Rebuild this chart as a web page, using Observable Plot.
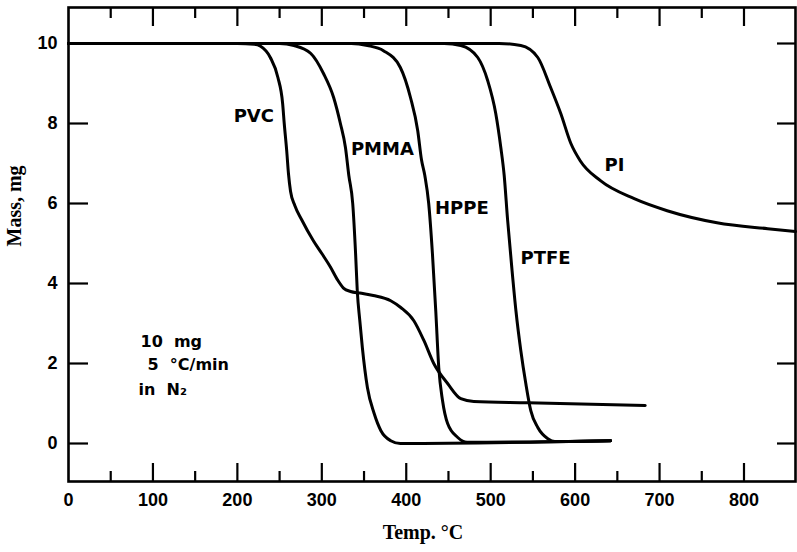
<!DOCTYPE html>
<html><head><meta charset="utf-8">
<script src="https://cdn.jsdelivr.net/npm/d3@7"></script>
<script src="https://cdn.jsdelivr.net/npm/@observablehq/plot@0.6"></script>
<style>body{margin:0;background:#fff}</style>
</head><body><div id="chart"></div>
<script>
// Series: temperature (°C) and mass (mg)
const pvcT = [0, 200, 220, 227.5, 239, 248, 253.6, 255.5, 258.5, 260.5, 263, 268, 276, 290, 300, 310, 319, 326, 334, 345, 361, 381.6, 393.5, 409, 421, 432.6, 449, 464.6, 480, 544, 683];
const pvcM = [10, 10, 9.98, 9.93, 9.65, 9.15, 8.5, 8.0, 7.3, 6.75, 6.3, 5.95, 5.6, 5.07, 4.75, 4.42, 4.08, 3.88, 3.8, 3.76, 3.7, 3.57, 3.4, 3.07, 2.57, 2.0, 1.5, 1.12, 1.05, 1.02, 0.95];
const pmmaT = [0, 250, 267, 287, 302, 314, 322, 328, 332, 336.6, 340, 342, 345, 348, 354, 362, 370, 381.6, 393, 642];
const pmmaM = [10, 10, 9.95, 9.75, 9.25, 8.65, 8.0, 7.4, 6.7, 6.0, 4.75, 3.82, 3.07, 2.4, 1.4, 0.75, 0.32, 0.07, 0.0, 0.07];
const hppeT = [0, 335, 354, 373, 393, 405, 413.6, 418, 422, 426.6, 431, 435, 438.5, 443, 449, 461, 472, 642];
const hppeM = [10, 10, 9.95, 9.82, 9.4, 8.65, 7.82, 7.1, 6.7, 6.0, 4.75, 3.3, 1.9, 1.07, 0.5, 0.15, 0.03, 0.07];
const ptfeT = [0, 445, 464.6, 484.7, 496.5, 506, 512, 516, 520, 525, 530, 535.7, 541.6, 547.5, 555.8, 567.7, 576, 642];
const ptfeM = [10, 10, 9.95, 9.65, 9.07, 8.25, 7.4, 6.7, 5.6, 4.4, 3.3, 2.32, 1.5, 0.82, 0.4, 0.12, 0.05, 0.07];
const piT = [0, 510, 535.7, 555.8, 571, 583, 595, 606, 630, 670, 709, 768, 828, 861];
const piM = [10, 10, 9.95, 9.65, 8.9, 8.25, 7.5, 7.07, 6.57, 6.12, 5.82, 5.52, 5.37, 5.3];

// Curve labels
const labelNames = ["PVC", "PMMA", "HPPE", "PTFE", "PI"];
const labelT = [219.5, 371.7, 465.8, 565, 646.5];
const labelM = [8.19, 7.35, 5.89, 4.64, 6.95];

// Annotation
const noteLines = ["10  mg", "5  °C/min", "in  N₂"];
const noteT = [85.3, 93.6, 83];
const noteM = [2.54, 1.97, 1.35];

// Ticks
const xLabelTicks = [0, 100, 200, 300, 400, 500, 600, 700, 800];
const xMinorTicks = [50, 150, 250, 350, 450, 550, 650, 750];
const yTicks = [0, 2, 4, 6, 8, 10];

const W = 797, H = 552;
const mL = 68, mR = 2, mT = 7, mB = 71;
const fw = W - mL - mR, fh = H - mT - mB;

const rows = (T, M) => T.map((t, i) => ({t, m: M[i]}));
const series = [rows(pvcT, pvcM), rows(pmmaT, pmmaM), rows(hppeT, hppeM), rows(ptfeT, ptfeM), rows(piT, piM)];
const labels = labelNames.map((n, i) => ({n, t: labelT[i], m: labelM[i]}));
const notes = noteLines.map((n, i) => ({n, t: noteT[i], m: noteM[i]}));
const xMajorInner = xLabelTicks.filter(d => d > 0);

const sans = "Liberation Sans, Arial, sans-serif";
const dejavu = "DejaVu Sans, sans-serif";
const serif = "Liberation Serif, Times New Roman, serif";

const chart = Plot.plot({
  width: W, height: H,
  marginLeft: mL, marginRight: mR, marginTop: mT, marginBottom: mB,
  style: {fontFamily: sans, background: "#fff", color: "#000"},
  x: {domain: [0, 861]},
  y: {domain: [-0.95, 10.9]},
  marks: [
    // inward tick marks
    Plot.ruleX(xMajorInner, {x: d => d, insetTop: fh - 18, strokeWidth: 2.2}),
    Plot.ruleX(xMinorTicks, {x: d => d, insetTop: fh - 10, strokeWidth: 2.2}),
    Plot.ruleX(xMajorInner, {x: d => d, insetBottom: fh - 19, strokeWidth: 2.2}),
    Plot.ruleX(xMinorTicks, {x: d => d, insetBottom: fh - 11, strokeWidth: 2.2}),
    Plot.ruleY(yTicks, {y: d => d, insetRight: fw - 20, strokeWidth: 2.2}),
    Plot.ruleY(yTicks, {y: d => d, insetLeft: fw - 18, strokeWidth: 2.2}),
    Plot.frame({strokeWidth: 2.6}),
    Plot.axisX({ticks: xLabelTicks, tickSize: 0, tickPadding: 12, fontSize: 18, fontWeight: "bold", label: null}),
    Plot.axisY({ticks: yTicks, tickSize: 0, tickPadding: 11, fontSize: 18, fontWeight: "bold", label: null}),
    ...series.map(s => Plot.line(s, {x: "t", y: "m", stroke: "#000", strokeWidth: 3, curve: "monotone-x"})),
    Plot.text(labels, {x: "t", y: "m", text: "n", fontSize: 18, fontWeight: "bold", fontFamily: dejavu, fill: "#000"}),
    Plot.text(notes, {x: "t", y: "m", text: "n", fontSize: 16, fontWeight: "bold", fontFamily: dejavu, textAnchor: "start", fill: "#000"}),
    Plot.text(["Mass, mg"], {frameAnchor: "left", dx: -54, dy: 2, rotate: -90, fontSize: 20, fontWeight: "bold", fontFamily: serif, fill: "#000"}),
    Plot.text(["Temp. °C"], {frameAnchor: "bottom", dx: -9, dy: 57, fontSize: 20, fontWeight: "bold", fontFamily: serif, fill: "#000"})
  ]
});
document.getElementById("chart").appendChild(chart);
</script>
</body></html>
